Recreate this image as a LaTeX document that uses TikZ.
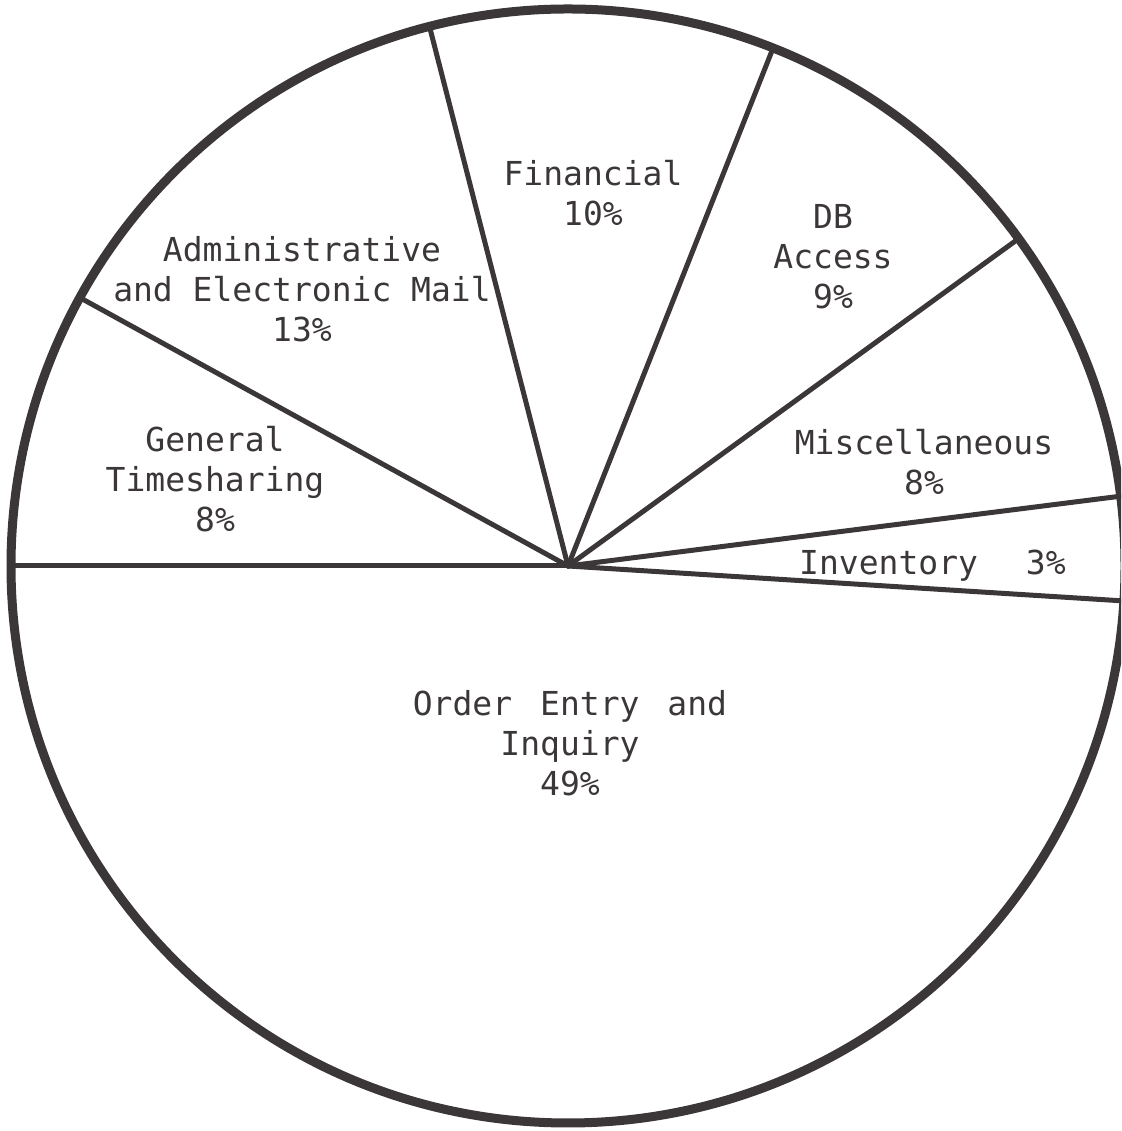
\documentclass[tikz,border=0pt]{standalone}
\usepackage{fontspec}
\setmonofont{DejaVu Sans Mono}
\usetikzlibrary{calc}
\definecolor{piegray}{HTML}{3B3738}

\begin{document}
\begin{tikzpicture}[x=1pt, y=1pt,
  rim/.style={line width=9pt, draw=piegray},
  spoke/.style={line width=5pt, draw=piegray, line cap=round},
  slice/.style={font=\ttfamily\fontsize{33}{40}\selectfont, text=piegray, align=center, inner sep=0pt}]

% Frame
\useasboundingbox (0,0) rectangle (1121,1131);
\clip (0,0) rectangle (1121,1131);

% Points
\coordinate (O) at (568,565);
\coordinate (gen) at ($(O)+(180:557)$);
\coordinate (adm) at ($(O)+(151.2:557)$);
\coordinate (fin) at ($(O)+(104.4:557)$);
\coordinate (dba) at ($(O)+(68.4:557)$);
\coordinate (mis) at ($(O)+(36:557)$);
\coordinate (inv) at ($(O)+(7.2:557)$);
\coordinate (ord) at ($(O)+(-3.6:557)$);

% Spokes
\draw[spoke] (O) -- (gen);
\draw[spoke] (O) -- (adm);
\draw[spoke] (O) -- (fin);
\draw[spoke] (O) -- (dba);
\draw[spoke] (O) -- (mis);
\draw[spoke] (O) -- (inv);
\draw[spoke] (O) -- (ord);

% Rim
\draw[rim] (O) circle[radius=557];

% Slice labels
\node[slice] (lfin) at (593,938) {Financial\\10\%};
\node[slice] (ldba) at (833,874) {DB\\Access\\9\%};
\node[slice] (ladm) at (302,842) {Administrative\\and Electronic Mail\\13\%};
\node[slice] (lgen) at (215,652) {General\\Timesharing\\8\%};
\node[slice] (lmis) at (924,669) {Miscellaneous\\8\%};
\node[slice, anchor=west] (linv) at (799,565) {Inventory\hspace{48pt}3\%};
\node[slice] (lord) at (570,388) {Order\hspace{28pt}Entry\hspace{28pt}and\\Inquiry\\49\%};

\end{tikzpicture}
\end{document}
